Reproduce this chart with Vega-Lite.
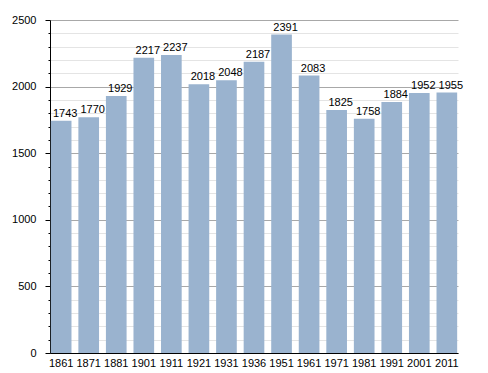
{
  "$schema": "https://vega.github.io/schema/vega-lite/v6.json",
  "width": 408,
  "height": 333,
  "autosize": {"type": "none"},
  "padding": {"left": 50, "top": 20, "right": 30, "bottom": 20},
  "background": "white",
  "config": {
    "view": {"stroke": null},
    "font": "Liberation Sans",
    "axis": {"labelFont": "Liberation Sans", "labelFontSize": 11, "labelColor": "#000"}
  },
  "data": {
    "values": [
      {"year": "1861", "pop": 1743},
      {"year": "1871", "pop": 1770},
      {"year": "1881", "pop": 1929},
      {"year": "1901", "pop": 2217},
      {"year": "1911", "pop": 2237},
      {"year": "1921", "pop": 2018},
      {"year": "1931", "pop": 2048},
      {"year": "1936", "pop": 2187},
      {"year": "1951", "pop": 2391},
      {"year": "1961", "pop": 2083},
      {"year": "1971", "pop": 1825},
      {"year": "1981", "pop": 1758},
      {"year": "1991", "pop": 1884},
      {"year": "2001", "pop": 1952},
      {"year": "2011", "pop": 1955}
    ]
  },
  "encoding": {
    "x": {
      "field": "year", "type": "nominal", "sort": null,
      "scale": {"paddingInner": 0.25, "paddingOuter": 0.03},
      "axis": {"title": null, "labelAngle": 0, "ticks": false, "domainColor": "#000", "labelPadding": 4, "grid": false}
    },
    "y": {
      "field": "pop", "type": "quantitative",
      "scale": {"domain": [0, 2500], "nice": false},
      "axis": {
        "title": null,
        "values": [0,100,200,300,400,500,600,700,800,900,1000,1100,1200,1300,1400,1500,1600,1700,1800,1900,2000,2100,2200,2300,2400,2500],
        "labelExpr": "datum.value % 500 === 0 ? datum.label : ''",
        "format": "d",
        "grid": true,
        "gridColor": {"condition": {"test": "datum.value % 500 === 0", "value": "#a8a8a8"}, "value": "#e4e4e4"},
        "tickSize": {"condition": {"test": "datum.value % 500 === 0", "value": 5}, "value": 2},
        "tickColor": "#000",
        "domainColor": "#000",
        "labelPadding": 9
      }
    }
  },
  "layer": [
    {"mark": {"type": "bar", "color": "#9ab3cf"}},
    {
      "mark": {"type": "text", "baseline": "bottom", "dy": -2, "dx": 4, "fontSize": 11, "color": "#000", "font": "Liberation Sans"},
      "encoding": {"text": {"field": "pop", "type": "quantitative"}}
    }
  ]
}
